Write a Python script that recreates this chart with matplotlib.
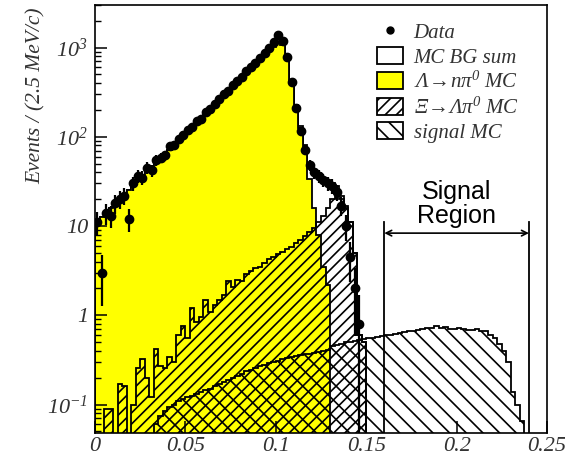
import numpy as np
import matplotlib
matplotlib.use("Agg")
import matplotlib.pyplot as plt
from matplotlib.patches import Patch
from matplotlib.lines import Line2D
from matplotlib.ticker import FixedLocator, FixedFormatter, LogLocator, NullFormatter


plt.rcParams['font.family'] = ['Liberation Serif', 'DejaVu Serif']
plt.rcParams['font.style'] = 'italic'
plt.rcParams['mathtext.fontset'] = 'custom'
plt.rcParams['mathtext.rm'] = 'Liberation Serif'
plt.rcParams['mathtext.it'] = 'Liberation Serif:italic'
plt.rcParams['hatch.linewidth'] = 1.2

# 2.5 MeV/c bins from 0 to 0.25 GeV/c
n_bins = 100
edges = np.linspace(0.0, 0.25, n_bins + 1)
centers = 0.5 * (edges[:-1] + edges[1:])

# Lambda -> n pi0 MC (bins from 0 upward)
lam_npi0 = [11.4, 12.7, 14.3, 16.0, 18.0, 20.2, 22.6, 25.4, 28.5, 32.0,
            35.9, 40.3, 45.2, 50.7, 56.9, 63.8, 71.6, 80.4, 90.2, 101,
            114, 128, 143, 161, 180, 202, 227, 255, 286, 321,
            360, 404, 453, 508, 570, 640, 718, 806, 904, 1010,
            1150, 1080, 760, 400, 220, 125, 70, 34, 16, 8,
            3.5, 2.2]

# Xi -> Lambda pi0 MC
xi_lampi0 = [0, 0, 0.09, 0.09, 0, 0.17, 0.16, 0, 0.10, 0.26,
             0.32, 0.20, 0.12, 0.42, 0.27, 0.26, 0.34, 0.30, 0.60, 0.75,
             0.55, 1.2, 0.85, 0.95, 1.5, 1.1, 1.3, 1.5, 1.7, 2.4,
             2.1, 2.5, 2.4, 2.9, 3.1, 3.4, 3.5, 3.9, 4.3, 4.5,
             4.9, 5.1, 5.6, 5.9, 6.4, 7.0, 7.7, 8.5, 9.5, 11,
             13, 16, 20, 22, 20, 16, 11, 5.0, 0.6, 0.5]

# sum of all MC backgrounds
mc_bg_sum = [11.4, 12.7, 14.4, 16.1, 18.0, 20.4, 22.8, 25.4, 28.6, 32.3,
             36.2, 40.5, 45.3, 51.1, 57.2, 64.1, 71.9, 80.7, 90.8, 102,
             115, 129, 144, 162, 182, 203, 228, 257, 288, 323,
             362, 406, 455, 511, 573, 643, 722, 810, 908, 1015,
             1155, 1085, 766, 406, 226, 132, 80, 50, 43, 39,
             35, 32, 30, 28, 22, 17, 11, 5.0, 0.6, 0.5]

# signal MC
signal_mc = [0, 0, 0, 0, 0, 0, 0, 0, 0, 0,
             0, 0, 0, 0.06, 0.075, 0.085, 0.095, 0.10, 0.11, 0.115,
             0.12, 0.125, 0.13, 0.14, 0.145, 0.15, 0.16, 0.17, 0.18, 0.19,
             0.20, 0.21, 0.22, 0.235, 0.245, 0.26, 0.27, 0.28, 0.29, 0.30,
             0.31, 0.32, 0.33, 0.34, 0.35, 0.36, 0.37, 0.37, 0.38, 0.39,
             0.40, 0.41, 0.45, 0.47, 0.48, 0.50, 0.50, 0.52, 0.53, 0.54,
             0.55, 0.56, 0.57, 0.58, 0.60, 0.60, 0.62, 0.63, 0.65, 0.66,
             0.67, 0.68, 0.70, 0.72, 0.73, 0.76, 0.72, 0.74, 0.70, 0.71,
             0.72, 0.70, 0.69, 0.68, 0.70, 0.67, 0.66, 0.60, 0.55, 0.48,
             0.40, 0.30, 0.14, 0.10, 0.066]

# data counts
data = [11, 3, 14, 13, 18, 20, 22, 12, 30, 36,
        35, 45, 42, 55, 58, 62, 78, 80, 95, 105,
        118, 130, 150, 160, 190, 205, 235, 265, 300, 330,
        380, 420, 470, 540, 600, 680, 760, 870, 990, 1150,
        1400, 1200, 780, 410, 210, 115, 72, 48, 40, 36,
        33, 30, 28, 24, 17, 10, 4.5, 2.0, 0.8]

x_ticks = [0, 0.05, 0.1, 0.15, 0.2, 0.25]
x_tick_labels = ['0', '0.05', '0.1', '0.15', '0.2', '0.25']
y_ticks = [0.1, 1, 10, 100, 1000]
y_tick_labels = [r'$\mathit{10^{-1}}$', '1', '10', r'$\mathit{10^{2}}$', r'$\mathit{10^{3}}$']

signal_lo, signal_hi = 0.16, 0.24


def full(values):
    # pad a histogram to all bins, keep empty bins just below the plot floor
    v = np.zeros(n_bins)
    v[:len(values)] = values
    return np.where(v > 0, v, 1e-3)


fig = plt.figure(figsize=(5.65, 4.59), dpi=100)
ax = fig.add_axes([95 / 565, 26 / 459, 452 / 565, 428 / 459])
ax.set_yscale('log')

ax.stairs(full(mc_bg_sum), edges, baseline=1e-3, fill=True,
          facecolor='white', edgecolor='black', linewidth=1.3)
ax.stairs(full(lam_npi0), edges, baseline=1e-3, fill=True,
          facecolor='#ffff00', edgecolor='black', linewidth=1.3)
ax.stairs(full(xi_lampi0), edges, baseline=1e-3, fill=True,
          facecolor='none', edgecolor='black', hatch='///', linewidth=1.3)
ax.stairs(full(signal_mc), edges, baseline=1e-3, fill=True,
          facecolor='none', edgecolor='black', hatch='\\\\', linewidth=1.3)

d = np.array(data, dtype=float)
xd = centers[:len(d)]
err = np.sqrt(d)
err_lo = np.minimum(err, d * 0.999)
ax.errorbar(xd, d, yerr=[err_lo, err], xerr=0.00125, fmt='o', color='black',
            ms=6, elinewidth=1.6, capsize=0)

# signal region marker
ax.axvline(signal_lo, ymin=0, ymax=0.493, color='black', lw=1.3)
ax.axvline(signal_hi, ymin=0, ymax=0.493, color='black', lw=1.3)
trans = ax.get_xaxis_transform()
ax.annotate('', xy=(signal_lo, 0.467), xytext=(signal_hi, 0.467), xycoords=trans,
            textcoords=trans,
            arrowprops=dict(arrowstyle='<->', lw=1.2, color='black', mutation_scale=10,
                            shrinkA=0, shrinkB=0))
ax.text(0.2, 0.535, 'Signal\nRegion', transform=trans, ha='center', va='center',
        fontsize=18, family='Liberation Sans', style='normal', linespacing=1.0)

ax.set_xlim(0, 0.25)
ax.set_ylim(0.048, 3000)

ax.xaxis.set_major_locator(FixedLocator(x_ticks))
ax.xaxis.set_major_formatter(FixedFormatter(x_tick_labels))
ax.yaxis.set_major_locator(FixedLocator(y_ticks))
ax.yaxis.set_major_formatter(FixedFormatter(y_tick_labels))
ax.yaxis.set_minor_locator(LogLocator(base=10, subs=np.arange(2, 10)))
ax.yaxis.set_minor_formatter(NullFormatter())

ax.tick_params(axis='both', which='major', direction='in', length=8.5, width=1.1,
               labelsize=16, labelcolor='#333333', top=False, right=False)
ax.tick_params(axis='y', which='major', pad=5)
ax.tick_params(axis='x', which='major', pad=3)
ax.tick_params(axis='y', which='minor', direction='in', length=4.5, width=1.0, right=False)
for s in ax.spines.values():
    s.set_linewidth(1.2)
ax.set_axisbelow(False)

ax.set_ylabel('Events / (2.5 MeV/c)', loc='top', fontsize=15.5, color='#333333')
ax.yaxis.set_label_coords(-0.108, 0.995)

handles = [
    Line2D([], [], marker='o', color='black', ls='none', ms=5),
    Patch(facecolor='white', edgecolor='black', linewidth=1.3),
    Patch(facecolor='#ffff00', edgecolor='black', linewidth=1.3),
    Patch(facecolor='white', edgecolor='black', hatch='///', linewidth=1.3),
    Patch(facecolor='white', edgecolor='black', hatch='\\\\', linewidth=1.3),
]
labels = ['Data', 'MC BG sum', r'$\mathrm{\Lambda}\!\rightarrow\!\mathit{n}\mathrm{\pi}^{\mathit{0}}$ MC',
          r'$\mathrm{\Xi}\!\rightarrow\!\mathrm{\Lambda\pi}^{\mathit{0}}$ MC', 'signal MC']
leg = ax.legend(handles, labels, loc='upper left', bbox_to_anchor=(0.624, 0.96),
                frameon=False, fontsize=15, handlelength=1.25, handleheight=0.87,
                handletextpad=0.5, labelspacing=0.2, borderpad=0, borderaxespad=0)
for t in leg.get_texts():
    t.set_color('#333333')

fig.savefig('out.png', dpi=100)
